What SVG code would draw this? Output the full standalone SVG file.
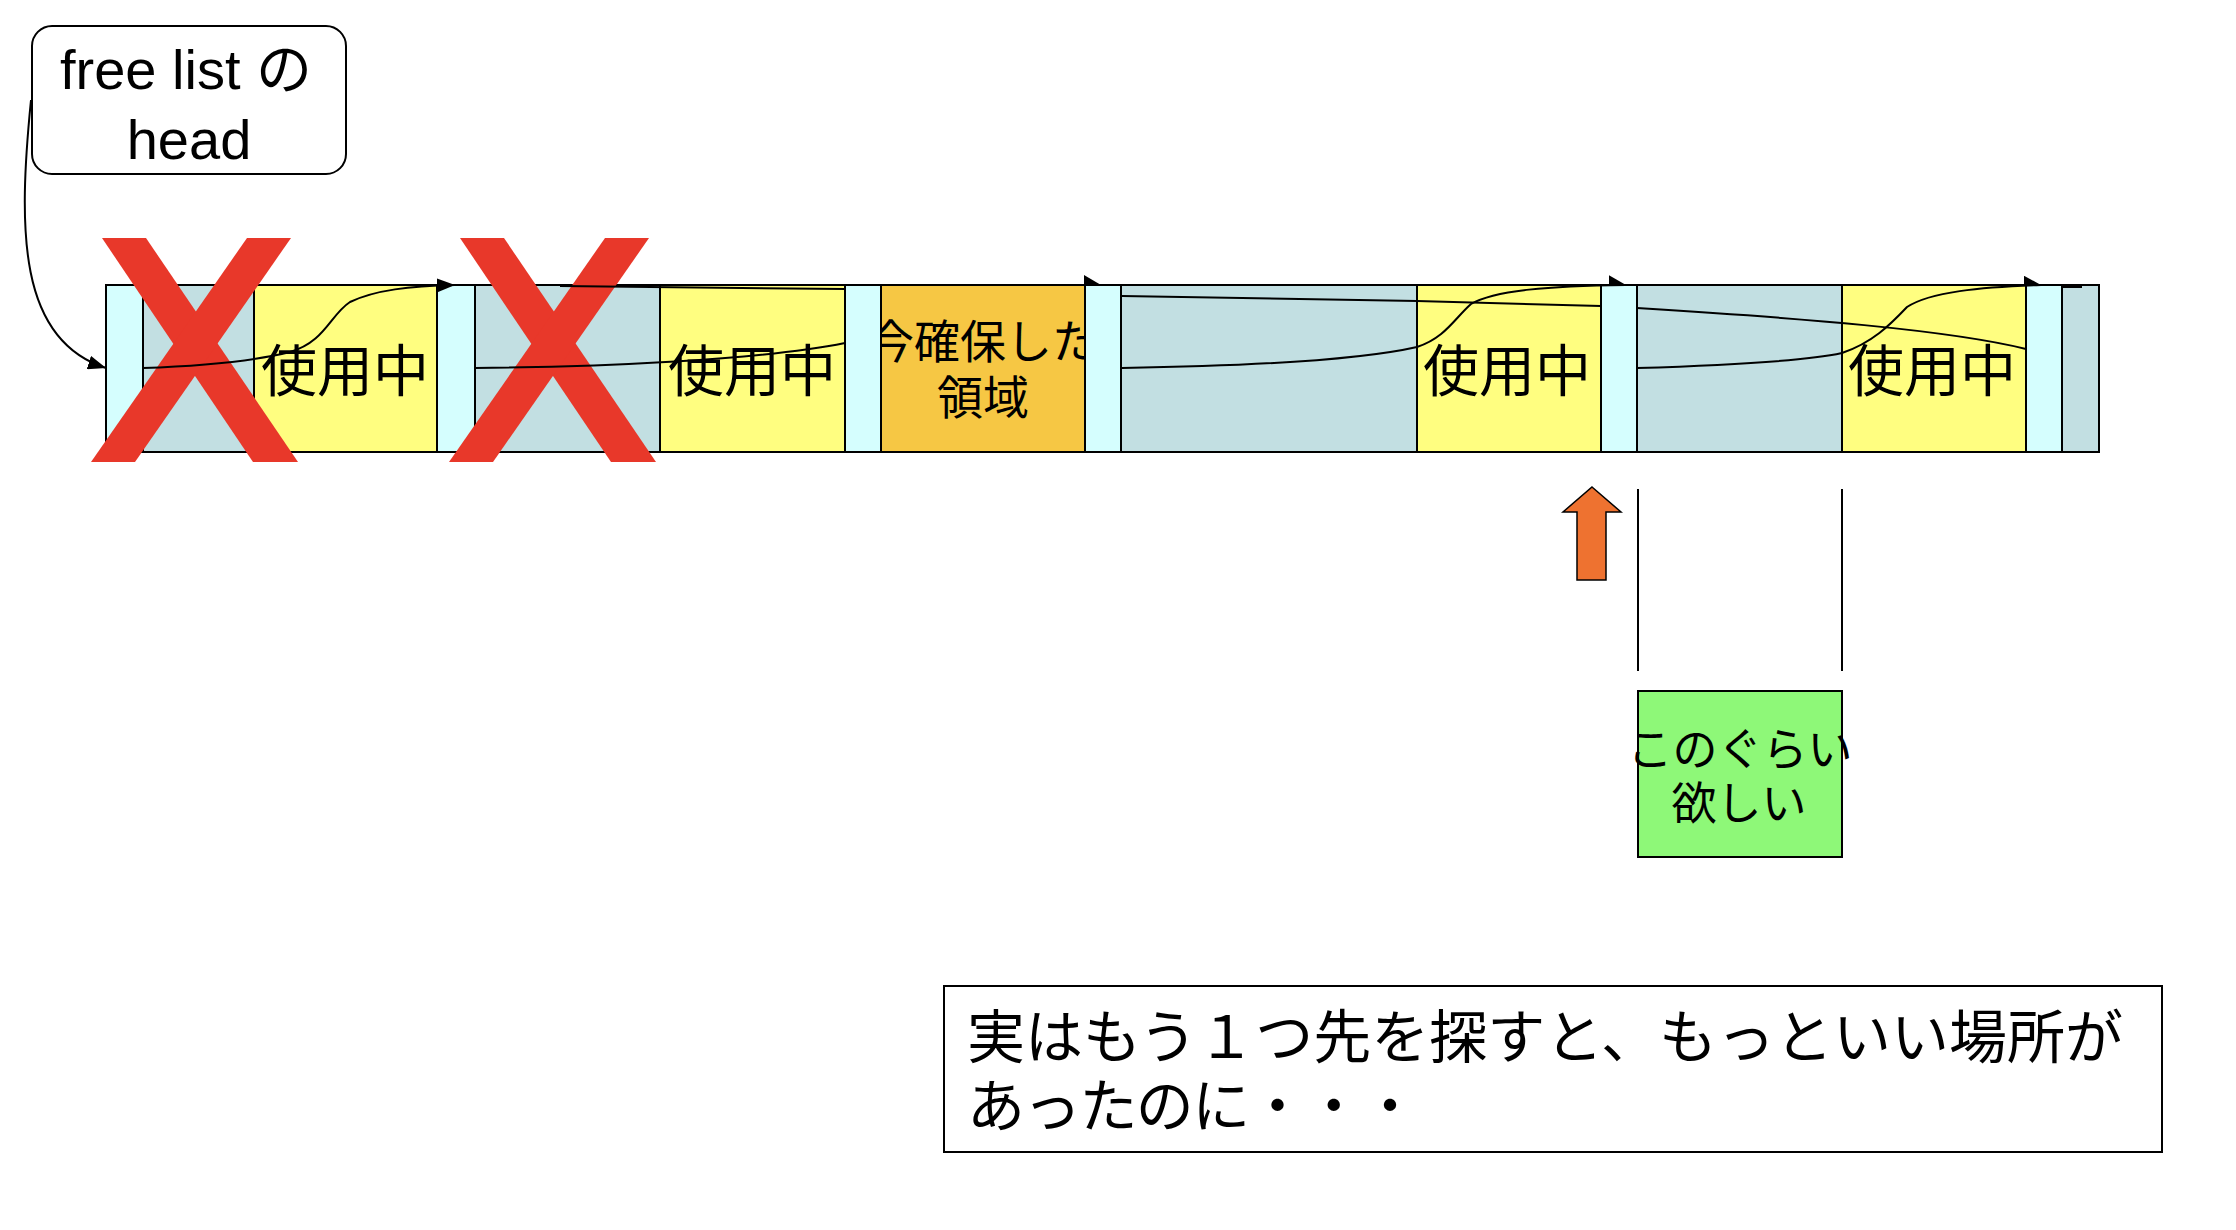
<svg xmlns="http://www.w3.org/2000/svg" width="2236" height="1230" viewBox="0 0 2236 1230">
<defs>
<style>
.blk{stroke:#000;stroke-width:2}
.hdr{fill:#D5FEFE}
.free{fill:#C2DFE2}
.used{fill:#FFFE80}
.new{fill:#F6C744}
.jp{font-family:"Noto Sans CJK JP","Liberation Sans",sans-serif;fill:#000}
.lat{font-family:"Liberation Sans","Noto Sans CJK JP",sans-serif;fill:#000}
.ln{fill:none;stroke:#000;stroke-width:2}
.x{fill:#E8382A}
</style>
<marker id="arr" markerUnits="userSpaceOnUse" markerWidth="18" markerHeight="14" refX="18" refY="7" orient="auto"><path d="M0,0 L18,7 L0,14 z" fill="#000"/></marker>
<marker id="half" markerUnits="userSpaceOnUse" markerWidth="17" markerHeight="11" refX="17" refY="10" orient="auto"><path d="M0,0 L17,10 L0,10 z" fill="#000"/></marker>
</defs>
<rect width="2236" height="1230" fill="#fff"/>

<g id="head">
<rect x="32" y="26" width="314" height="148" rx="20" fill="#fff" stroke="#000" stroke-width="2"/>
<text class="lat" x="186" y="89" font-size="56" text-anchor="middle">free list の</text>
<text class="lat" x="189" y="159" font-size="56" text-anchor="middle">head</text>
</g>

<g id="memory">
<rect id="h1" class="blk hdr" x="106" y="285" width="37" height="167"/>
<rect id="f1" class="blk free" x="143" y="285" width="111" height="167"/>
<g id="u1"><rect class="blk used" x="254" y="285" width="183" height="167"/><text class="jp" x="345" y="391" font-size="56" text-anchor="middle">使用中</text></g>
<rect id="h2" class="blk hdr" x="437" y="285" width="38" height="167"/>
<rect id="f2" class="blk free" x="475" y="285" width="185" height="167"/>
<g id="u2"><rect class="blk used" x="660" y="285" width="185" height="167"/><text class="jp" x="752" y="391" font-size="56" text-anchor="middle">使用中</text></g>
<g id="alloc"><rect class="blk new" x="881" y="285" width="204" height="167"/><text class="jp" x="983" y="358" font-size="46" text-anchor="middle">今確保した</text><text class="jp" x="983" y="414" font-size="46" text-anchor="middle">領域</text></g>
<rect id="h3" class="blk hdr" x="845" y="285" width="36" height="167"/>
<rect id="h4" class="blk hdr" x="1085" y="285" width="36" height="167"/>
<rect id="f3" class="blk free" x="1121" y="285" width="296" height="167"/>
<g id="u3"><rect class="blk used" x="1417" y="285" width="184" height="167"/><text class="jp" x="1507" y="391" font-size="56" text-anchor="middle">使用中</text></g>
<rect id="h5" class="blk hdr" x="1601" y="285" width="36" height="167"/>
<rect id="f4" class="blk free" x="1637" y="285" width="205" height="167"/>
<g id="u4"><rect class="blk used" x="1842" y="285" width="184" height="167"/><text class="jp" x="1932" y="391" font-size="56" text-anchor="middle">使用中</text></g>
<rect id="h6" class="blk hdr" x="2026" y="285" width="36" height="167"/>
<rect id="f5" class="blk free" x="2062" y="285" width="37" height="167"/>
</g>

<g id="cross1"><polygon class="x" points="102,238 146,238 298,462 253,462"/><polygon class="x" points="247,238 291,238 135,462 91,462"/></g>
<g id="cross2"><polygon class="x" points="460,238 504,238 656,462 611,462"/><polygon class="x" points="605,238 649,238 493,462 449,462"/></g>

<g id="connectors">
<path class="ln" d="M31,100 C 18,230 18,340 106,368" marker-end="url(#arr)"/>
<path class="ln" d="M143,368 C 200,366 250,362 290,352 C 325,342 330,315 350,302 C 375,290 410,286 455,285" marker-end="url(#arr)"/>
<path class="ln" d="M475,368 C 600,367 760,360 845,343"/>
<path class="ln" d="M560,286 L845,289"/>
<path class="ln" d="M881,285 L1101,285" marker-end="url(#half)"/>
<path class="ln" d="M1122,368 C 1250,366 1360,360 1417,347 C 1445,338 1455,318 1471,304 C 1495,290 1550,286 1626,285" marker-end="url(#half)"/>
<path class="ln" d="M1122,296 L1417,301 L1601,306"/>
<path class="ln" d="M1637,368 C 1740,365 1810,360 1842,353 C 1872,343 1890,325 1907,307 C 1930,292 1980,287 2041,285" marker-end="url(#half)"/>
<path class="ln" d="M1637,308 C 1800,318 1950,330 2026,349"/>
<path class="ln" d="M2062,287 L2082,287"/>
</g>

<g id="pointer">
<polygon points="1592,487 1621,512 1606,512 1606,580 1577,580 1577,512 1563,512" fill="#EE7230" stroke="#000" stroke-width="1.5"/>
</g>

<g id="span">
<line class="ln" x1="1638" y1="489" x2="1638" y2="671"/>
<line class="ln" x1="1842" y1="489" x2="1842" y2="671"/>
</g>

<g id="want">
<rect x="1638" y="691" width="204" height="166" fill="#8EF878" stroke="#000" stroke-width="2"/>
<text class="jp" x="1740" y="766" font-size="45" text-anchor="middle">このぐらい</text>
<text class="jp" x="1739" y="820" font-size="45" text-anchor="middle">欲しい</text>
</g>

<g id="note">
<rect x="944" y="986" width="1218" height="166" fill="#fff" stroke="#000" stroke-width="2"/>
<text class="jp" x="967" y="1058" font-size="58">実はもう１つ先を探すと、もっといい場所が</text>
<text class="jp" x="967" y="1127" font-size="58" textLength="452" lengthAdjust="spacing">あったのに・・・</text>
</g>
</svg>
